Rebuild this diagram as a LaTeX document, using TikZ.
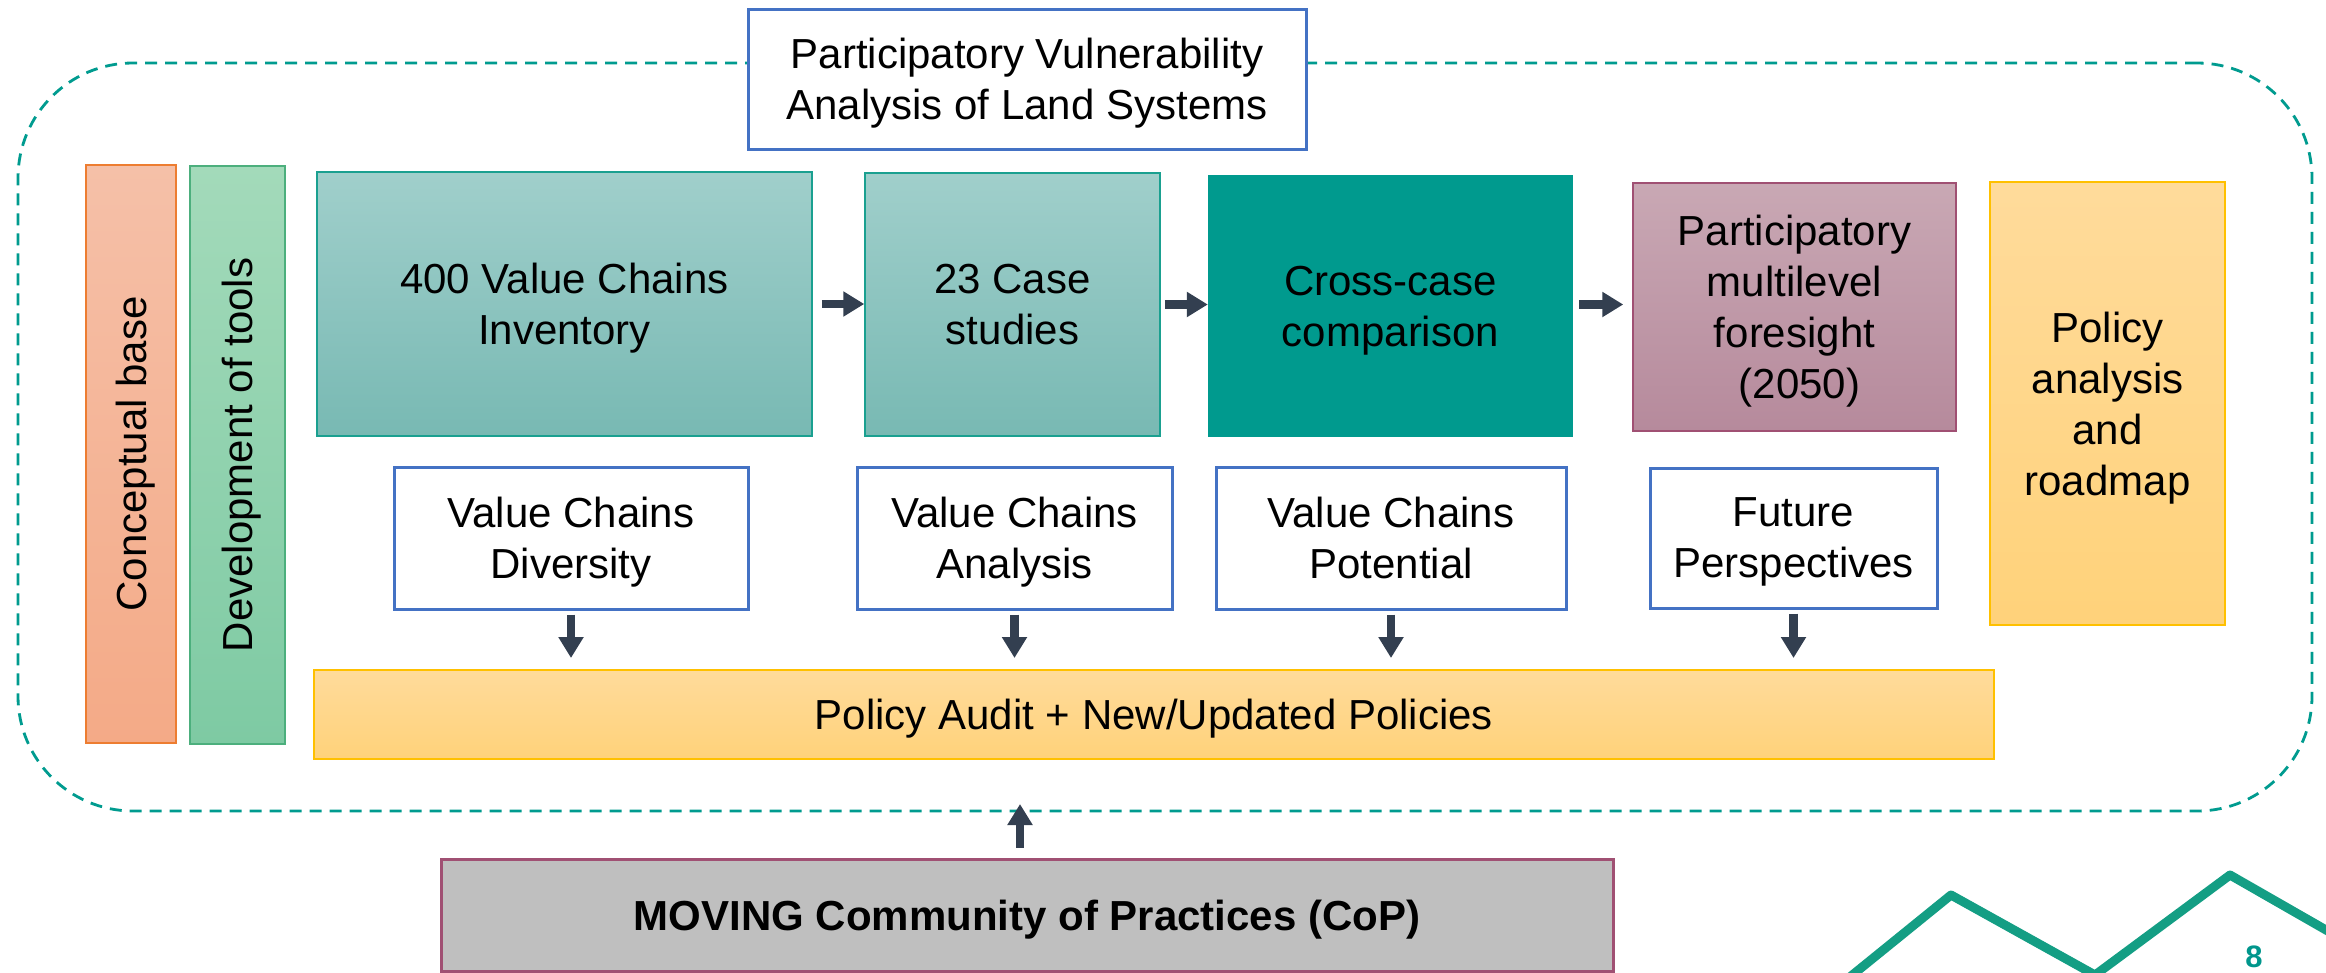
\documentclass[tikz,border=0pt]{standalone}
\usepackage{fontspec}
\setmainfont{Liberation Sans}
\usetikzlibrary{arrows.meta}
\definecolor{dashteal}{RGB}{0,155,143}
\definecolor{boxblue}{RGB}{68,114,196}
\definecolor{arrowc}{RGB}{51,63,80}
\definecolor{cbtop}{RGB}{245,192,168}
\definecolor{cbbot}{RGB}{244,170,135}
\definecolor{cbedge}{RGB}{237,125,49}
\definecolor{dttop}{RGB}{163,218,186}
\definecolor{dtbot}{RGB}{126,202,163}
\definecolor{dtedge}{RGB}{76,175,125}
\definecolor{tealtop}{RGB}{160,207,203}
\definecolor{tealbot}{RGB}{120,185,179}
\definecolor{tealedge}{RGB}{26,160,144}
\definecolor{tealsolid}{RGB}{0,154,142}
\definecolor{mauvetop}{RGB}{201,168,180}
\definecolor{mauvebot}{RGB}{182,138,156}
\definecolor{mauveedge}{RGB}{160,80,115}
\definecolor{yeltop}{RGB}{255,219,155}
\definecolor{yelbot}{RGB}{255,210,122}
\definecolor{yeledge}{RGB}{255,192,0}
\definecolor{copgray}{RGB}{191,191,191}
\definecolor{logoteal}{RGB}{20,158,132}
\definecolor{numteal}{RGB}{0,150,140}
\tikzset{
  txt/.style={font=\fontsize{42}{51}\selectfont, align=center, text=black, inner sep=0pt, text depth=0pt},
  frame/.style={draw=dashteal, line width=2.8pt, dash pattern=on 12pt off 8pt, rounded corners=115pt, inner sep=0pt},
  bluebox/.style={txt, draw=boxblue, line width=3pt, fill=white},
  tealbox/.style={txt, draw=tealedge, line width=1.5pt, top color=tealtop, bottom color=tealbot},
  solidbox/.style={txt, fill=tealsolid},
  mauvebox/.style={txt, draw=mauveedge, line width=1.5pt, top color=mauvetop, bottom color=mauvebot},
  yelbox/.style={txt, draw=yeledge, line width=2pt, top color=yeltop, bottom color=yelbot},
  cbbar/.style={draw=cbedge, line width=1.5pt, top color=cbtop, bottom color=cbbot, inner sep=0pt},
  dtbar/.style={draw=dtedge, line width=1.5pt, top color=dttop, bottom color=dtbot, inner sep=0pt},
  copbox/.style={txt, font=\fontsize{42}{51}\selectfont\bfseries, draw=mauveedge, line width=3pt, fill=copgray},
  arr/.style={draw=arrowc, line width=8.5pt, -{Triangle[width=24pt,length=21pt]}},
}
\begin{document}
\begin{tikzpicture}[x=1pt,y=-1pt]
\useasboundingbox (0,0) rectangle (2326,972);
% dashed frame
\node[frame, minimum width=2294pt, minimum height=748pt] (frame) at (1165,437) {};
% title
\node[bluebox, minimum width=558pt, minimum height=140pt] (title) at (1027,79) {Participatory Vulnerability\\Analysis of Land Systems};
% vertical bars
\node[cbbar, minimum width=90pt, minimum height=578pt] (cb) at (131,454) {};
\node[txt, rotate=90] (cbt) at (cb) {Conceptual base};
\node[dtbar, minimum width=95pt, minimum height=578pt] (dt) at (237.5,455) {};
\node[txt, rotate=90] (dtt) at (dt) {Development of tools};
% top row
\node[tealbox, minimum width=495pt, minimum height=264pt] (inv) at (564.5,304) {400 Value Chains\\Inventory};
\node[tealbox, minimum width=295pt, minimum height=263pt] (cs) at (1012.5,304.5) {23 Case\\studies};
\node[solidbox, minimum width=365pt, minimum height=262pt] (cc) at (1390.5,306) {Cross-case\\comparison};
\node[mauvebox, minimum width=323pt, minimum height=248pt] (fs) at (1794.5,307) {Participatory\\multilevel\\foresight\\\hspace*{10pt}(2050)};
\node[yelbox, minimum width=235pt, minimum height=443pt] (pa) at (2107.5,403.5) {Policy\\analysis\\and\\roadmap};
% second row
\node[bluebox, minimum width=354pt, minimum height=142pt] (vcd) at (571,538) {Value Chains\\Diversity};
\node[bluebox, minimum width=315pt, minimum height=142pt] (vca) at (1014.5,538) {Value Chains\\Analysis};
\node[bluebox, minimum width=350pt, minimum height=142pt] (vcp) at (1391,538) {Value Chains\\Potential};
\node[bluebox, minimum width=287pt, minimum height=140pt] (fp) at (1793.5,538) {Future\\Perspectives};
% policy audit
\node[yelbox, minimum width=1680pt, minimum height=89pt] (audit) at (1154,714.5) {Policy Audit + New/Updated Policies};
% CoP
\node[copbox, minimum width=1172pt, minimum height=112pt] (cop) at (1027,915) {MOVING Community of Practices (CoP)};
% horizontal arrows
\draw[arr, shorten <=9pt] (inv.east) -- (inv.east -| cs.west);
\draw[arr, shorten <=4pt] (cs.east) -- (cs.east -| cc.west);
\draw[arr, shorten <=6pt, shorten >=9pt] (cc.east |- cs.east) -- (cs.east -| fs.west);
% down arrows
\draw[arr, shorten <=4pt, shorten >=11pt] (vcd.south) -- (vcd.south |- audit.north);
\draw[arr, shorten <=4pt, shorten >=11pt] (vca.south) -- (vca.south |- audit.north);
\draw[arr, shorten <=4pt, shorten >=11pt] (vcp.south) -- (vcp.south |- audit.north);
\draw[arr, shorten <=4pt, shorten >=11pt] (fp.south) -- (fp.south |- audit.north);
% up arrow
\coordinate (uptip) at (1020,804);
\draw[arr, shorten <=10pt] (cop.north -| uptip) -- (uptip);
% logo
\begin{scope}
\clip (0,0) rectangle (2326,972);
\draw[logoteal, line width=9pt, line join=round, line cap=round] (1840,985) -- (1951,895) -- (2095,975) -- (2230,875) -- (2340,938);
\end{scope}
\node[font=\fontsize{31}{31}\selectfont\bfseries, text=numteal, inner sep=0pt] (pnum) at (2254,957) {8};
\end{tikzpicture}
\end{document}
